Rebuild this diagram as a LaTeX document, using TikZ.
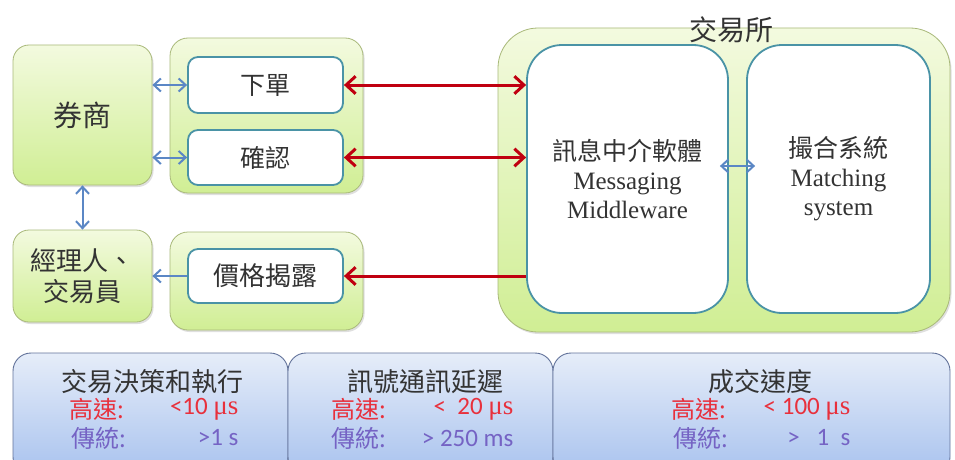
\documentclass[tikz,border=0pt]{standalone}
\usepackage{fontspec}
\setmainfont{Liberation Serif}
\newfontfamily\cjk{Noto Sans CJK TC}
\newfontfamily\calfont{Carlito}
\usetikzlibrary{arrows.meta,shadows}
\definecolor{gtop}{HTML}{F3FADF}
\definecolor{gbot}{HTML}{D0EE94}
\definecolor{gedge}{HTML}{A9B97A}
\definecolor{boxedge}{HTML}{4A93A6}
\definecolor{boxglow}{HTML}{C8EEF8}
\definecolor{barrow}{HTML}{5B87C5}
\definecolor{rarrow}{HTML}{C00010}
\definecolor{btop}{HTML}{E6EDF9}
\definecolor{bbot}{HTML}{A8C2EE}
\definecolor{bedge}{HTML}{62729A}
\definecolor{fast}{HTML}{E8303C}
\definecolor{slow}{HTML}{7563C4}
\definecolor{ink}{HTML}{333333}
\tikzset{
  >={Straight Barb[length=2pt 2.5,width=4pt 4.5]},
  greenbox/.style={rounded corners=#1, draw=gedge, line width=0.8pt, top color=gtop, bottom color=gbot,
    inner sep=0pt, drop shadow={opacity=0.25,shadow xshift=1.5pt,shadow yshift=-2pt}},
  whitebox/.style={rounded corners=#1, draw=boxedge, line width=1.8pt, fill=white, inner sep=0pt},
  bluebox/.style={rounded corners=18pt, draw=bedge, line width=0.9pt, top color=btop, bottom color=bbot, inner sep=0pt, minimum height=122pt},
  barr/.style={draw=barrow, line width=2pt},
  rarr/.style={draw=rarrow, line width=3pt},
  cjkbig/.style={text=ink, font=\cjk\fontsize{#1}{#1}\selectfont},
  title/.style={text=ink, font=\cjk\fontsize{26}{28}\selectfont},
  fastlbl/.style={text=fast, font=\cjk\fontsize{24}{26}\selectfont, anchor=west},
  slowlbl/.style={text=slow, font=\cjk\fontsize{24}{26}\selectfont, anchor=west},
  fastval/.style={text=fast, font=\calfont\fontsize{25}{27}\selectfont, anchor=east},
  slowval/.style={text=slow, font=\calfont\fontsize{25}{27}\selectfont, anchor=east},
}
\newcommand{\mus}{{\rmfamily\fontsize{27}{27}\selectfont μs}}
\begin{document}
\begin{tikzpicture}[x=1pt,y=-1pt]
\useasboundingbox (0,0) rectangle (955,460);
\clip (0,0) rectangle (955,460);
\fill[white] (0,0) rectangle (955,460);

% left side
\node[greenbox=16pt, minimum width=139pt, minimum height=140pt, cjkbig=29] (qs) at (82.5,115) {券商};
\node[greenbox=18pt, minimum width=193pt, minimum height=155pt] (grpA) at (266.5,115.5) {};
\node[whitebox=10pt, minimum width=155pt, minimum height=56pt, cjkbig=25] (xiadan) at (265.5,85) {下單};
\node[whitebox=10pt, minimum width=155pt, minimum height=55pt, cjkbig=25] (queren) at (265.5,157.5) {確認};

\node[greenbox=16pt, minimum width=139pt, minimum height=92pt, text=ink, font=\cjk\fontsize{26}{31}\selectfont, align=center] (jl) at (82.5,276) {經理人、\\交易員};
\node[greenbox=18pt, minimum width=193pt, minimum height=98pt] (grpB) at (266.5,281) {};
\node[whitebox=10pt, minimum width=155pt, minimum height=54pt, cjkbig=26] (jiage) at (265.5,276) {價格揭露};

% exchange
\node[greenbox=40pt, minimum width=452pt, minimum height=304pt] (exch) at (724,180) {};
\node[whitebox=35pt, minimum width=201pt, minimum height=268pt, text=ink, align=center, font=\fontsize{25}{29}\selectfont] (msg) at (627.5,179) {{\cjk 訊息中介軟體}\\Messaging\\Middleware};
\node[whitebox=35pt, minimum width=183pt, minimum height=268pt, text=ink, align=center, font=\fontsize{25}{29}\selectfont] (match) at (838.5,179) {{\cjk 撮合系統}\\Matching\\system};
\node[cjkbig=28] (exlbl) at (731,30) {交易所};

% arrows
\draw[barr,<->] (xiadan.west -| qs.east) -- (xiadan.west);
\draw[barr,<->] (queren.west -| qs.east) -- (queren.west);
\draw[barr,<->] (qs.south) -- (jl.north);
\draw[barr,->] (jiage.west) -- (jiage.west -| jl.east);
\draw[barr,<->] ([xshift=-9pt,yshift=13pt]msg.east) -- ([xshift=9pt,yshift=13pt]match.west);
\draw[rarr,<->] (xiadan.east) -- (xiadan.east -| msg.west);
\draw[rarr,<->] (queren.east) -- (queren.east -| msg.west);
\draw[rarr,->] (jiage.east -| msg.west) -- (jiage.east);

% bottom boxes
\node[bluebox, minimum width=275pt] (b1) at (150.5,414) {};
\node[bluebox, minimum width=265pt] (b2) at (420.5,414) {};
\node[bluebox, minimum width=397pt] (b3) at (751.5,414) {};

\node[title] (t1) at (152,382) {交易決策和執行};
\node[fastlbl] (f1) at (66,409) {高速:};
\node[fastval] (fv1) at (242,409) {<10 \mus};
\node[slowlbl] (s1) at (68,438) {傳統:};
\node[slowval] (sv1) at (242,438) {>1 s};

\node[title] (t2) at (425,382) {訊號通訊延遲};
\node[fastlbl] (f2) at (328,409) {高速:};
\node[fastval] (fv2) at (517,409) {<\ \ 20 \mus};
\node[slowlbl] (s2) at (328,438) {傳統:};
\node[slowval] (sv2) at (517,438) {> 250 ms};

\node[title] (t3) at (760,382) {成交速度};
\node[fastlbl] (f3) at (668,409) {高速:};
\node[fastval] (fv3) at (854,409) {< 100 \mus};
\node[slowlbl] (s3) at (670,438) {傳統:};
\node[slowval] (sv3) at (854,438) {>\ \ \ 1\ \ s};
\end{tikzpicture}
\end{document}
